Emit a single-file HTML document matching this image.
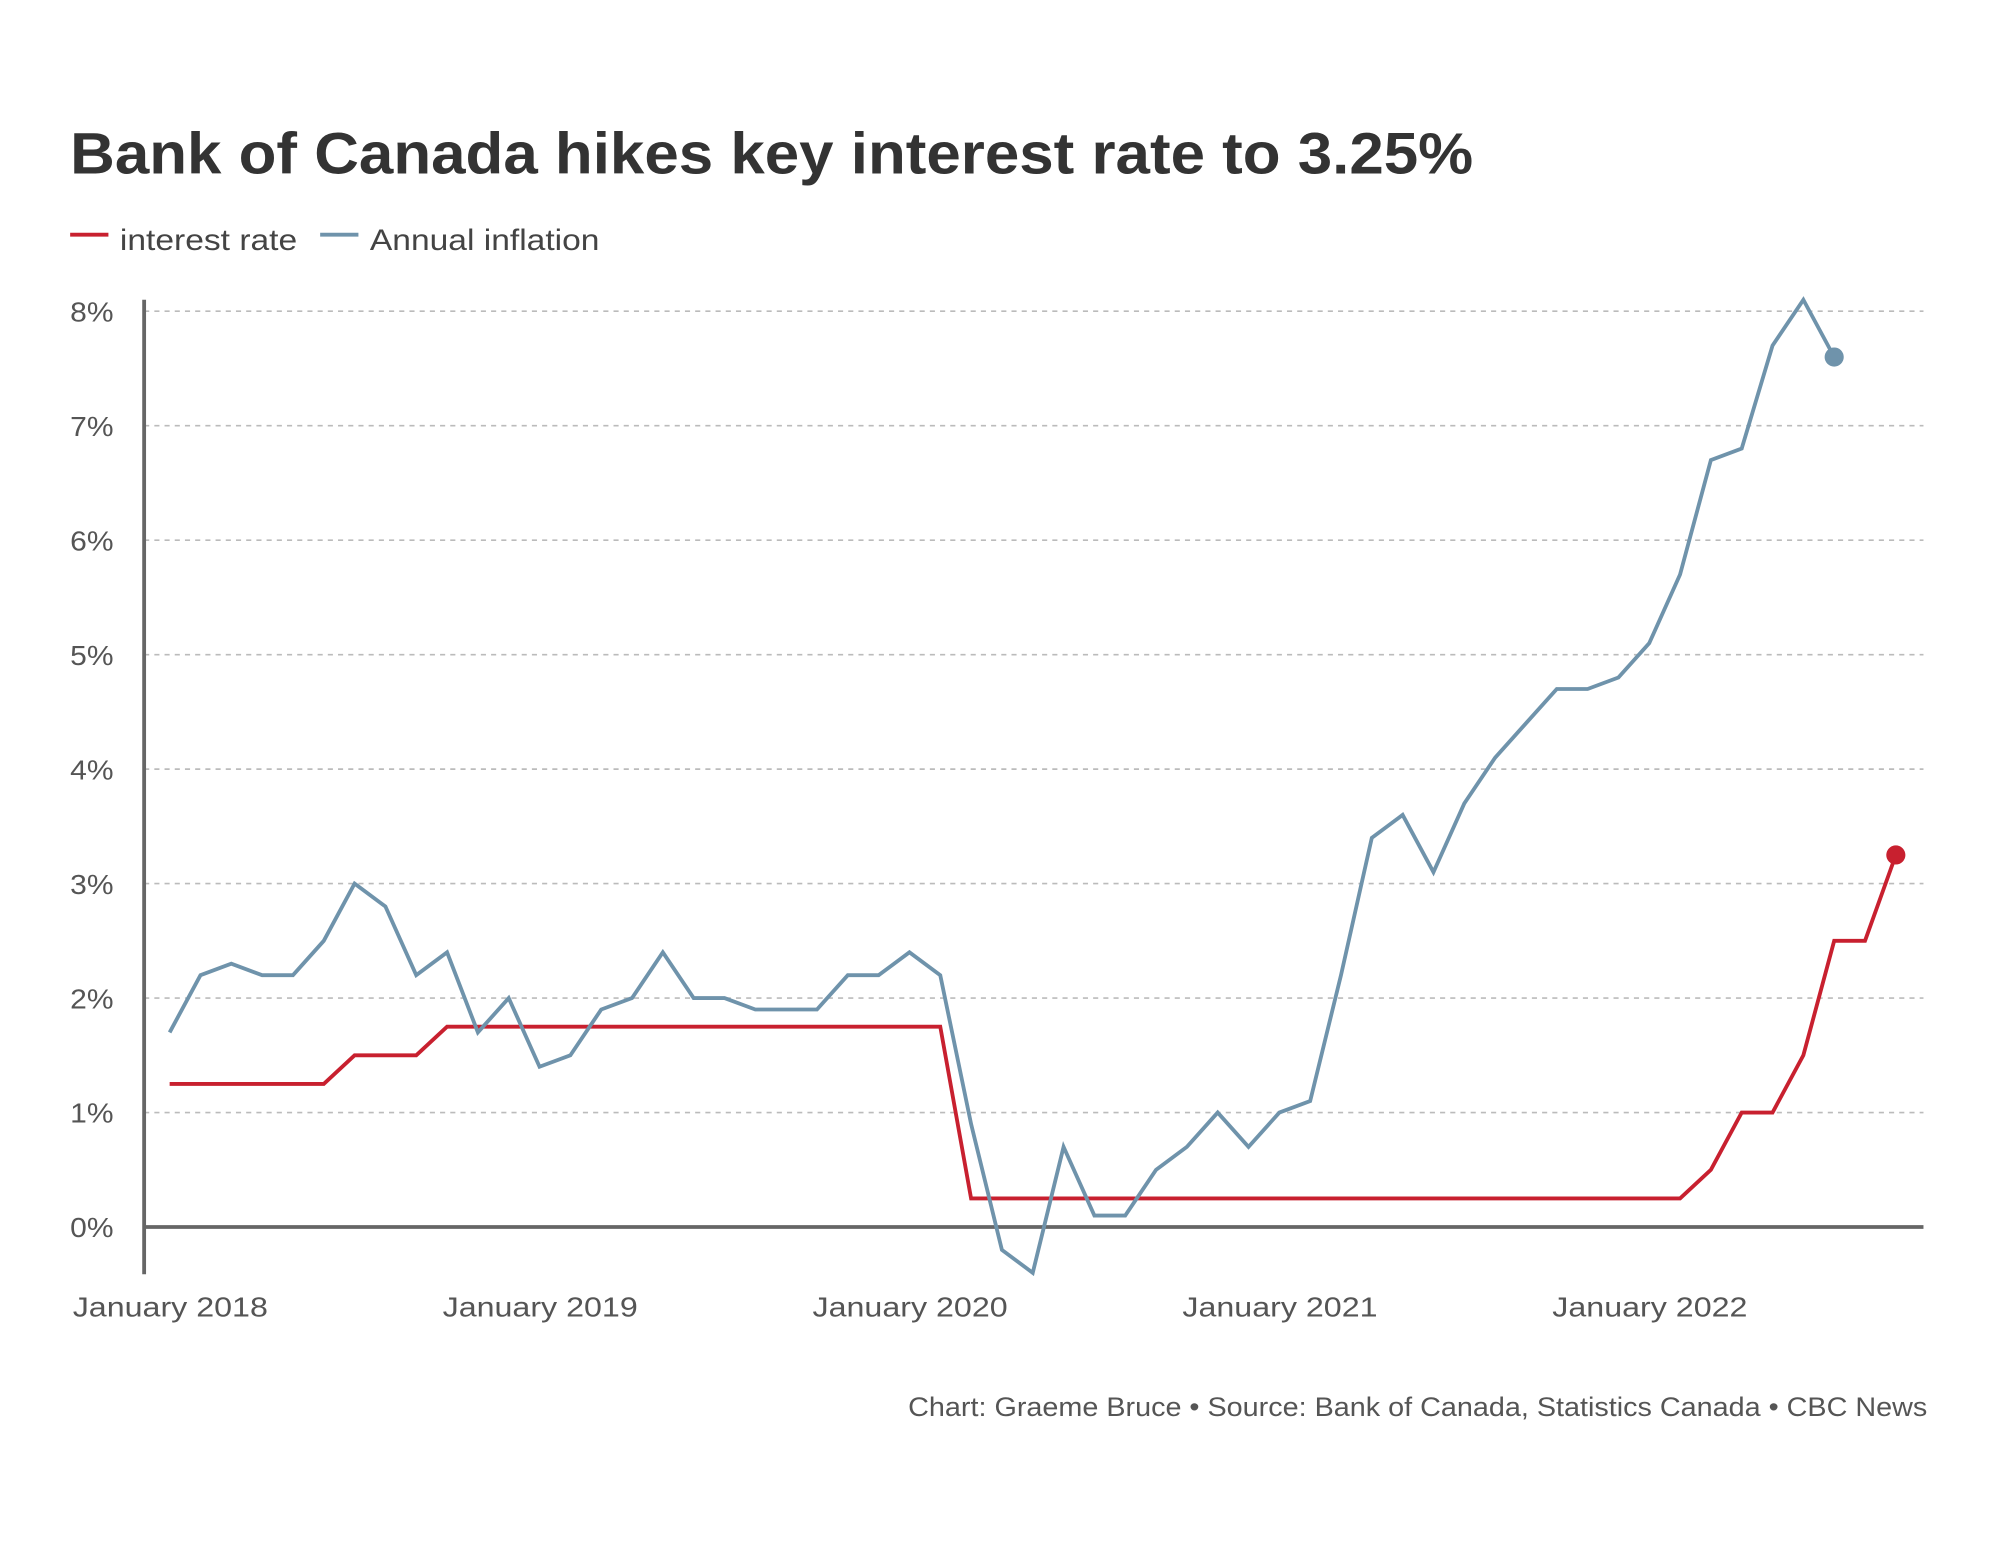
<!DOCTYPE html>
<html><head><meta charset="utf-8"><style>
html,body{margin:0;padding:0;background:#fff;}
svg{display:block;font-family:"Liberation Sans",sans-serif;}
</style></head><body>
<svg id="chart" width="2000" height="1545" viewBox="0 0 1568 1211.3" preserveAspectRatio="none" xmlns="http://www.w3.org/2000/svg">
<text x="55" y="136" font-size="46" font-weight="bold" fill="#333" textLength="1100" lengthAdjust="spacingAndGlyphs">Bank of Canada hikes key interest rate to 3.25%</text>
<g>
<line x1="55" y1="184" x2="85" y2="184" stroke="#c8202f" stroke-width="3"/>
<text x="94" y="196" font-size="23" fill="#444" textLength="139" lengthAdjust="spacingAndGlyphs">interest rate</text>
<line x1="251" y1="184" x2="281" y2="184" stroke="#6f93ab" stroke-width="3"/>
<text x="290" y="196" font-size="23" fill="#444" textLength="180" lengthAdjust="spacingAndGlyphs">Annual inflation</text>
</g>
<g id="grid"></g>
<g id="axes"></g>
<g id="series"></g>
<text x="712" y="1110" font-size="21" fill="#555" textLength="799" lengthAdjust="spacingAndGlyphs">Chart: Graeme Bruce • Source: Bank of Canada, Statistics Canada • CBC News</text>
</svg>
<script>
const yTicks = [0,1,2,3,4,5,6,7,8];
const xTickLabels = ["January 2018","January 2019","January 2020","January 2021","January 2022"];
const xTickMonths = [0,12,24,36,48];
const inflation = [1.7,2.2,2.3,2.2,2.2,2.5,3.0,2.8,2.2,2.4,1.7,2.0,
 1.4,1.5,1.9,2.0,2.4,2.0,2.0,1.9,1.9,1.9,2.2,2.2,
 2.4,2.2,0.9,-0.2,-0.4,0.7,0.1,0.1,0.5,0.7,1.0,0.7,
 1.0,1.1,2.2,3.4,3.6,3.1,3.7,4.1,4.4,4.7,4.7,4.8,
 5.1,5.7,6.7,6.8,7.7,8.1,7.6];
const interest = [1.25,1.25,1.25,1.25,1.25,1.25,1.5,1.5,1.5,1.75,1.75,1.75,
 1.75,1.75,1.75,1.75,1.75,1.75,1.75,1.75,1.75,1.75,1.75,1.75,
 1.75,1.75,0.25,0.25,0.25,0.25,0.25,0.25,0.25,0.25,0.25,0.25,
 0.25,0.25,0.25,0.25,0.25,0.25,0.25,0.25,0.25,0.25,0.25,0.25,
 0.25,0.25,0.5,1.0,1.0,1.5,2.5,2.5,3.25];
const NS="http://www.w3.org/2000/svg";
const x = m => 133 + m*(290/12);
const y = v => 962 - v*89.75;
function mk(tag, attrs, parent){const e=document.createElementNS(NS,tag);for(const k in attrs)e.setAttribute(k,attrs[k]);parent.appendChild(e);return e;}
const grid=document.getElementById('grid'), axes=document.getElementById('axes'), series=document.getElementById('series');
yTicks.forEach(t=>{
  if(t!==0){const l=mk('line',{x1:113,x2:1508,y1:y(t),y2:y(t),stroke:'#bbb','stroke-width':1.3,'stroke-dasharray':'4,4'},grid);
  
  }
  const tx=mk('text',{x:55,y:y(t)+8,'font-size':22,fill:'#555',textLength:34,lengthAdjust:'spacingAndGlyphs'},axes);
  tx.textContent=t+'%';
  
  
});
const za=mk('line',{x1:113,x2:1508,y1:y(0),y2:y(0),stroke:'#666','stroke-width':3},axes);


const ya=mk('line',{x1:113,x2:113,y1:235,y2:999,stroke:'#666','stroke-width':3},axes);


xTickMonths.forEach((m,i)=>{
  const tx=mk('text',{x:x(m)-76,y:1032,'font-size':22,fill:'#555',textLength:153,lengthAdjust:'spacingAndGlyphs'},axes);
  tx.textContent=xTickLabels[i];
  
  
});
function line(data,color,name){
  const p=mk('polyline',{points:data.map((v,i)=>x(i)+','+y(v)).join(' '),fill:'none',stroke:color,'stroke-width':3,'stroke-linejoin':'miter'},series);
  
  
  const n=data.length-1;
  const c=mk('circle',{cx:x(n),cy:y(data[n]),r:7.5,fill:color},series);
  
  
}
line(interest,'#c8202f','interest-rate');
line(inflation,'#6f93ab','inflation');
</script>
</body></html>
